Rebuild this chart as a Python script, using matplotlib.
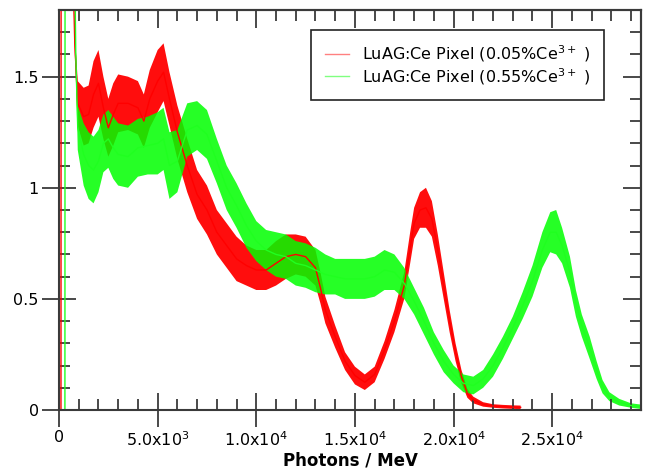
import matplotlib
matplotlib.use("Agg")
import matplotlib.pyplot as plt
from matplotlib.ticker import MultipleLocator, FixedLocator
import numpy as np

# ---- data ----
red_photons = [0, 100, 110, 650, 800, 950, 1250, 1500, 1750, 2000, 2250, 2500, 2750, 3000, 3500,
               4000, 4300, 4600, 5000, 5300, 5600, 6000, 6500, 7000, 7500, 8000, 8500, 9000, 9500,
               10000, 10500, 11000, 11500, 12000, 12500, 13000, 13250, 13500, 14000, 14500, 15000,
               15500, 16000, 16500, 17000, 17500, 17800, 18000, 18300, 18600, 18900, 19200, 19500,
               19800, 20100, 20400, 20700, 21000, 21500, 22000, 22500, 23000, 23400]
red_counts = [0, 0, 3.0, 2.2, 1.65, 1.38, 1.32, 1.33, 1.42, 1.47, 1.36, 1.27, 1.33, 1.38, 1.38,
              1.36, 1.30, 1.40, 1.48, 1.52, 1.40, 1.25, 1.10, 0.97, 0.90, 0.80, 0.74, 0.68, 0.65,
              0.63, 0.63, 0.66, 0.69, 0.70, 0.69, 0.64, 0.55, 0.45, 0.33, 0.22, 0.155,
              0.125, 0.16, 0.27, 0.40, 0.56, 0.73, 0.84, 0.90, 0.91, 0.86, 0.72, 0.56,
              0.40, 0.26, 0.15, 0.075, 0.045, 0.025, 0.018, 0.015, 0.013, 0.012]
red_spread = [0, 0, 0, 0, 0.05, 0.10, 0.13, 0.13, 0.15, 0.15, 0.14, 0.13, 0.14, 0.13, 0.12,
              0.12, 0.12, 0.13, 0.14, 0.13, 0.12, 0.12, 0.12, 0.11, 0.11, 0.10, 0.10, 0.10, 0.09,
              0.09, 0.09, 0.10, 0.10, 0.09, 0.09, 0.08, 0.07, 0.06, 0.05, 0.04, 0.04,
              0.035, 0.035, 0.04, 0.05, 0.06, 0.07, 0.07, 0.08, 0.09, 0.08, 0.07, 0.06,
              0.05, 0.04, 0.03, 0.02, 0.015, 0.01, 0.008, 0.008, 0.008, 0.008]

green_photons = [0, 300, 310, 750, 850, 950, 1250, 1500, 1750, 2000, 2250, 2500, 2750, 3000, 3500,
                 4000, 4500, 5000, 5300, 5600, 6000, 6500, 7000, 7500, 8000, 8500, 9000, 9500,
                 10000, 10500, 11000, 11500, 12000, 12500, 13000, 13500, 14000, 14500, 15000,
                 15500, 16000, 16500, 17000, 17500, 18000, 18500, 19000, 19500, 20000, 20500,
                 21000, 21500, 22000, 22500, 23000, 23500, 24000, 24500, 24900, 25200, 25500,
                 25900, 26200, 26500, 26900, 27250, 27550, 27900, 28400, 29000, 29450]
green_counts = [0, 0, 3.0, 2.4, 1.6, 1.27, 1.15, 1.10, 1.08, 1.12, 1.20, 1.22, 1.18, 1.15, 1.14,
                1.18, 1.19, 1.20, 1.22, 1.10, 1.12, 1.26, 1.28, 1.24, 1.12, 1.00, 0.92, 0.83,
                0.76, 0.72, 0.70, 0.69, 0.66, 0.65, 0.63, 0.61, 0.60, 0.59, 0.59,
                0.59, 0.60, 0.63, 0.62, 0.57, 0.49, 0.40, 0.30, 0.22, 0.16, 0.12,
                0.11, 0.14, 0.20, 0.28, 0.37, 0.47, 0.58, 0.72, 0.80, 0.80, 0.74,
                0.62, 0.48, 0.38, 0.28, 0.18, 0.105, 0.06, 0.035, 0.02, 0.015]
green_spread = [0, 0, 0, 0, 0.05, 0.10, 0.14, 0.15, 0.15, 0.14, 0.13, 0.13, 0.14, 0.14, 0.14,
                0.13, 0.13, 0.14, 0.14, 0.15, 0.14, 0.12, 0.11, 0.11, 0.10, 0.10, 0.10, 0.10,
                0.09, 0.09, 0.10, 0.10, 0.10, 0.10, 0.10, 0.09, 0.08, 0.09, 0.09,
                0.09, 0.09, 0.09, 0.08, 0.07, 0.06, 0.06, 0.05, 0.05, 0.04, 0.04,
                0.04, 0.04, 0.05, 0.05, 0.05, 0.06, 0.07, 0.08, 0.09, 0.10, 0.08,
                0.07, 0.06, 0.05, 0.05, 0.04, 0.03, 0.02, 0.015, 0.01, 0.01]

x_tick_values = [0, 5000, 10000, 15000, 20000, 25000]
x_tick_labels = ["0", r"5.0x10$^{3}$", r"1.0x10$^{4}$", r"1.5x10$^{4}$", r"2.0x10$^{4}$", r"2.5x10$^{4}$"]
y_tick_values = [0, 0.5, 1.0, 1.5]
y_tick_labels = ["0", "0.5", "1", "1.5"]

legend_red = r"LuAG:Ce Pixel (0.05%Ce$^{3+}$ )"
legend_green = r"LuAG:Ce Pixel (0.55%Ce$^{3+}$ )"

# ---- plot ----
fig = plt.figure(figsize=(6.46, 4.74), dpi=100)
ax = fig.add_axes([59/646, 64/474, 582/646, 400/474])

spine_c = "#3a3a3a"
RED = "#ff0000"
GREEN = "#00ff00"

rp, rc, rs = map(np.asarray, (red_photons, red_counts, red_spread))
gp, gc, gs = map(np.asarray, (green_photons, green_counts, green_spread))

ax.fill_between(rp, rc - rs, rc + rs, color=RED, alpha=0.95, lw=0)
ax.plot(rp, rc, color=RED, lw=1.0)
ax.fill_between(gp, gc - gs, gc + gs, color=GREEN, alpha=0.85, lw=0)
ax.plot(gp, gc, color="#20ff20", lw=1.0)

# legend proxies
hr, = ax.plot([], [], color="#ff8080", lw=1.0)
hg, = ax.plot([], [], color="#80ff80", lw=1.0)
leg = ax.legend([hr, hg], [legend_red, legend_green], loc="upper left",
                bbox_to_anchor=(311/646, 1 - 30/474), bbox_transform=fig.transFigure,
                borderaxespad=0, frameon=True, fancybox=False, fontsize=11.5,
                handlelength=1.55, handletextpad=0.8, borderpad=0.85,
                labelspacing=0.1, edgecolor="#222222", framealpha=1)
leg.get_frame().set_linewidth(1.2)

ax.set_xlim(0, 29500)
ax.set_ylim(0, 1.8)

ax.xaxis.set_major_locator(FixedLocator(x_tick_values))
ax.set_xticklabels(x_tick_labels)
ax.xaxis.set_minor_locator(MultipleLocator(1000))
ax.yaxis.set_major_locator(FixedLocator(y_tick_values))
ax.set_yticklabels(y_tick_labels)
ax.yaxis.set_minor_locator(MultipleLocator(0.1))

for s in ax.spines.values():
    s.set_color(spine_c)
    s.set_linewidth(1.5)

ax.tick_params(which="major", direction="inout", length=25, width=1.3, color=spine_c,
               labelsize=11.5, pad=2)
ax.tick_params(which="minor", direction="in", length=8, width=1.3, color=spine_c)

for side in ("top", "right"):
    if side == "top":
        sec = ax.secondary_xaxis("top")
        sec.xaxis.set_major_locator(FixedLocator(x_tick_values))
        sec.xaxis.set_minor_locator(MultipleLocator(1000))
    else:
        sec = ax.secondary_yaxis("right")
        sec.yaxis.set_major_locator(FixedLocator(y_tick_values))
        sec.yaxis.set_minor_locator(MultipleLocator(0.1))
    sec.tick_params(which="major", direction="in", length=13, width=1.3, color=spine_c,
                    labeltop=False, labelright=False, labelbottom=False, labelleft=False)
    sec.tick_params(which="minor", direction="in", length=8, width=1.3, color=spine_c)
    for s in sec.spines.values():
        s.set_color(spine_c)
        s.set_linewidth(1.5)

ax.set_xlabel("Photons / MeV", fontsize=12, fontweight="bold", labelpad=2)

fig.savefig("out.png", dpi=100)
